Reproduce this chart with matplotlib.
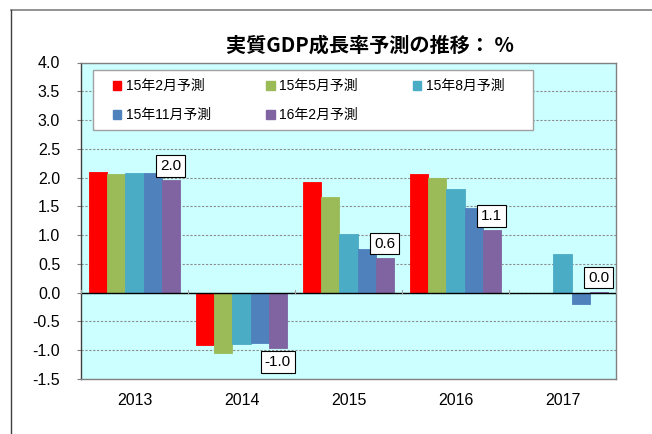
import matplotlib
matplotlib.use("Agg")
import matplotlib.pyplot as plt
import numpy as np
from matplotlib.lines import Line2D
from matplotlib.patches import Patch, Rectangle

years = ["2013", "2014", "2015", "2016", "2017"]
series_names = ["15年2月予測", "15年5月予測", "15年8月予測", "15年11月予測", "16年2月予測"]
feb15 = [2.10, -0.91, 1.92, 2.06, np.nan]
may15 = [2.07, -1.04, 1.67, 2.00, np.nan]
aug15 = [2.08, -0.89, 1.02, 1.81, 0.67]
nov15 = [2.08, -0.88, 0.76, 1.47, -0.20]
feb16 = [1.96, -0.96, 0.61, 1.09, 0.02]
series = [feb15, may15, aug15, nov15, feb16]
colors = ["#FF0000", "#9BBB59", "#4BACC6", "#4F81BD", "#8064A2"]
yticks = [4.0, 3.5, 3.0, 2.5, 2.0, 1.5, 1.0, 0.5, 0.0, -0.5, -1.0, -1.5]
title = "実質GDP成長率予測の推移： %"

plt.rcParams['font.family'] = ['Liberation Sans', 'Noto Sans CJK JP', 'DejaVu Sans']

W, H = 652, 434
fig = plt.figure(figsize=(W / 100, H / 100), dpi=100)
ax = fig.add_axes([81 / W, 1 - 379 / H, (616 - 81) / W, (379 - 62.5) / H])
ax.set_facecolor("#CCFFFF")

x = np.arange(len(years))
bw = 0.17
for i, (vals, c) in enumerate(zip(series, colors)):
    ax.bar(x + (i - 2) * bw, vals, width=bw, color=c, edgecolor=c, linewidth=0.6,
           label=series_names[i], zorder=3)

# data labels for the latest forecast
for xi, v in zip(x, feb16):
    off = 5 if v >= 0 else -5
    ax.annotate(f"{v:.1f}", (xi + 2 * bw, v), xytext=(0, off), textcoords="offset points",
                ha="center", va="bottom" if v >= 0 else "top", fontsize=11, zorder=5,
                bbox=dict(boxstyle="square,pad=0.25", fc="white", ec="black", lw=0.8))

ax.set_xlim(-0.5, len(years) - 0.5)
ax.set_ylim(-1.5, 4.0)
ax.set_yticks(yticks)
ax.set_yticklabels([f"{t:.1f}" for t in yticks], fontsize=11.5)
ax.set_xticks(x)
ax.set_xticklabels(years, fontsize=11.5)
ax.tick_params(axis="x", length=0, pad=10)
ax.tick_params(axis="y", length=3, color="#808080", pad=12)
ax.yaxis.grid(True, linestyle=(0, (2, 1.5)), color="#8C8C8C", linewidth=0.8, zorder=1)
ax.axhline(0, color="black", linewidth=1.0, zorder=4)
# category boundary ticks on the zero line
for b in np.arange(len(years) + 1) - 0.5:
    ax.plot([b, b], [0, 0.05], color="#A0A0A0", lw=0.8, zorder=4, clip_on=False)
for s in ax.spines.values():
    s.set_color("#808080")
    s.set_linewidth(1.0)
ax.spines["left"].set_color("#404040")

# legend frame
fig.add_artist(Rectangle((93 / W, 1 - 130 / H), 440 / W, 60 / H, transform=fig.transFigure,
                         facecolor="white", edgecolor="#A0A0A0", lw=1.0, zorder=9))
handles = [Patch(facecolor=c, edgecolor=c) for c in colors]
order = [0, 3, 1, 4, 2]
leg = fig.legend([handles[k] for k in order], [series_names[k] for k in order],
                 ncol=3, loc="upper left",
                 bbox_to_anchor=(113 / W, 1 - 79 / H),
                 borderaxespad=0, borderpad=0, fontsize=10, frameon=False,
                 handlelength=0.6, handleheight=0.6,
                 handletextpad=0.35, labelspacing=1.1, columnspacing=3.95)
leg.set_zorder(10)

fig.text(370 / W, 1 - 45 / H, title, ha="center", va="center", fontsize=14.5,
         fontweight="bold", family=['Noto Sans CJK JP', 'DejaVu Sans'])

# outer frame
fig.add_artist(Line2D([11 / W, 1], [1 - 10 / H, 1 - 10 / H], color="#808080", lw=1.2))
fig.add_artist(Line2D([11 / W, 11 / W], [0, 1 - 10 / H], color="#404040", lw=1.0))

fig.savefig("out.png", dpi=100)
